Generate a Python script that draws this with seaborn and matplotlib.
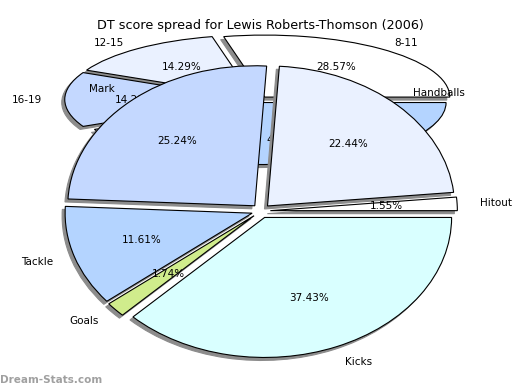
import matplotlib
matplotlib.use("Agg")
import matplotlib.pyplot as plt
import seaborn as sns

# ---- data ----
title = "DT score spread for Lewis Roberts-Thomson (2006)"
range_labels = ["8-11", "12-15", "16-19", "4-7"]
range_values = [28.57, 14.29, 14.29, 42.86]
stat_labels = ["Hitout", "Handballs", "Mark", "Tackle", "Goals", "Kicks"]
stat_values = [1.55, 22.44, 25.24, 11.61, 1.74, 37.43]
palette_hex = ["#ffffff", "#eaf1ff", "#c4d8ff", "#b4d4ff", "#d0ec8c", "#d9ffff"]

sns.set_style("white")
plt.rcParams['font.family'] = ['DejaVu Sans']

W, H = 520, 390
fig = plt.figure(figsize=(W / 100, H / 100), dpi=100)
colors = sns.color_palette(palette_hex)

L = 1.45


def ellipse_axes(cx, cy, rx, ry):
    left = (cx - rx * L) / W
    bottom = (H - cy - ry * L) / H
    ax = fig.add_axes([left, bottom, 2 * rx * L / W, 2 * ry * L / H])
    return ax


def draw(ax, values, labels, cols, rx, ry):
    sx = -3 / rx / 1.389
    sy = -3 / ry / 1.389
    wedges, texts, autotexts = ax.pie(
        values, labels=labels, colors=cols, startangle=0, counterclock=True,
        explode=[0.05] * len(values), autopct="%.2f%%", pctdistance=0.62,
        labeldistance=1.12, normalize=True,
        wedgeprops=dict(edgecolor="black", linewidth=0.8),
        textprops=dict(fontsize=7.5, color="black"),
        shadow={'ox': sx, 'oy': sy, 'facecolor': '#8c8c8c',
                'edgecolor': '#8c8c8c', 'alpha': 1.0})
    ax.set_aspect('auto')
    ax.set_xlim(-L, L)
    ax.set_ylim(-L, L)
    ax.axis('off')
    ax.patch.set_alpha(0)
    return wedges, texts, autotexts


ax_bg = ellipse_axes(259, 99.5, 185, 62)
draw(ax_bg, range_values, range_labels, colors[:4], 185, 62)

ax_fg = ellipse_axes(261, 211, 187, 140)
draw(ax_fg, stat_values, stat_labels, colors, 187, 140)

fig.text(0.5, 1 - 26 / H, title, ha="center", va="center", fontsize=9.2,
         color="black")
fig.text(0.0, 1 - 380 / H, "Dream-Stats.com", ha="left", va="center",
         fontsize=7.5, color="#a0a0a0", fontweight="bold")

fig.savefig("out.png", dpi=100)
